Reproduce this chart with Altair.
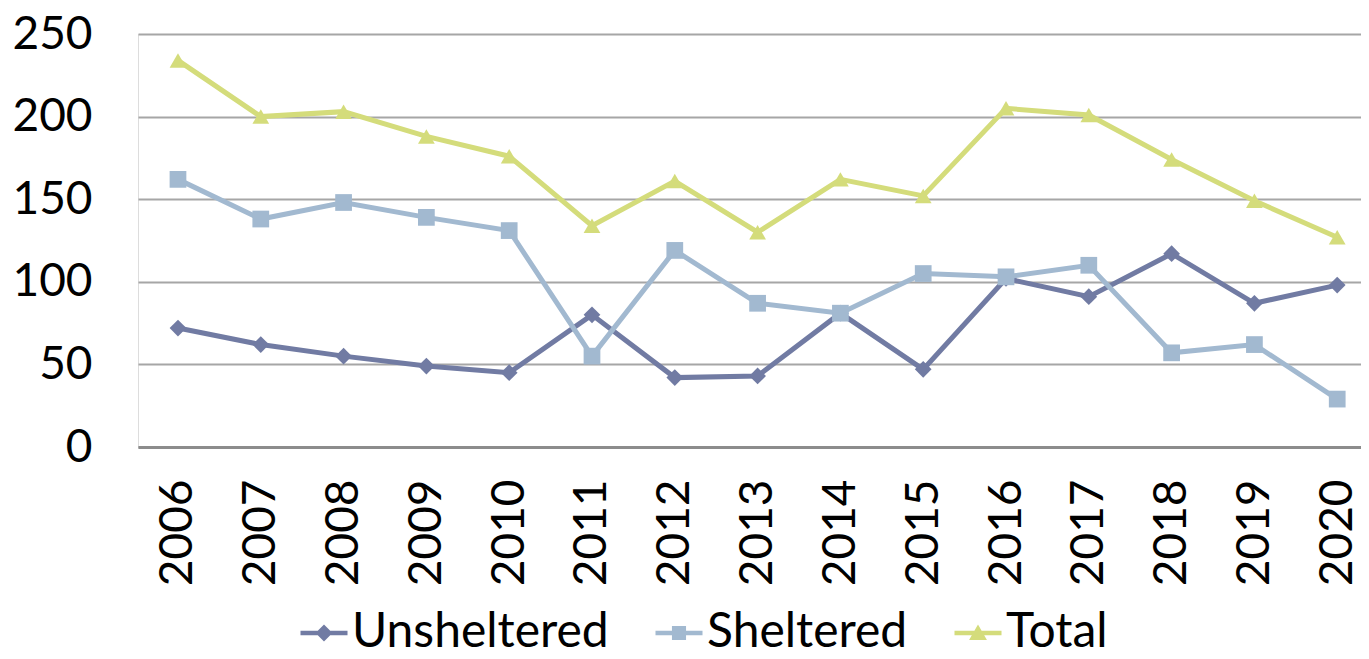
import altair as alt
import pandas as pd

years = ["2006", "2007", "2008", "2009", "2010", "2011", "2012", "2013",
         "2014", "2015", "2016", "2017", "2018", "2019", "2020"]
unsheltered = [72, 62, 55, 49, 45, 80, 42, 43, 81, 47, 102, 91, 117, 87, 98]
sheltered = [162, 138, 148, 139, 131, 55, 119, 87, 81, 105, 103, 110, 57, 62, 29]
total = [234, 200, 203, 188, 176, 134, 161, 130, 162, 152, 205, 201, 174, 149, 127]
series = ["Unsheltered", "Sheltered", "Total"]
colors = ["#717BA3", "#A2B9D0", "#D4DC7B"]
point_shapes = ["diamond", "square", "triangle-up"]
y_ticks = [0, 50, 100, 150, 200, 250]

LINE = "M-1,-0.1H1V0.1H-1Z"
legend_shapes = [
    LINE + "M0,-0.36L0.36,0L0,0.36L-0.36,0Z",
    LINE + "M-0.3,-0.3H0.3V0.3H-0.3Z",
    LINE + "M0,-0.36L0.38,0.3H-0.38Z",
]

rows = []
for name, vals in zip(series, [unsheltered, sheltered, total]):
    for yr, v in zip(years, vals):
        rows.append({"Year": yr, "Value": v, "Series": name})
df = pd.DataFrame(rows)

FONT = "Lato"

x_enc = alt.X(
    "Year:O",
    sort=years,
    scale=alt.Scale(type="point", padding=0.385, align=0.627),
    axis=alt.Axis(
        title=None, labelAngle=-90, ticks=False, grid=False,
        domain=True, domainColor="#8C8C8C", domainWidth=3,
        labelFont=FONT, labelFontSize=46, labelColor="black", labelPadding=32,
    ),
)
y_enc = alt.Y(
    "Value:Q",
    scale=alt.Scale(domain=[0, 250], nice=False),
    axis=alt.Axis(
        title=None, values=y_ticks, ticks=False, domain=False,
        grid=True, gridColor="#A6A6A6", gridWidth=2,
        labelFont=FONT, labelFontSize=46, labelColor="black", labelPadding=46,
    ),
)
color_scale = alt.Scale(domain=series, range=colors)
color_enc = alt.Color("Series:N", scale=color_scale, title=None)

base = alt.Chart(df)

lines = base.mark_line(strokeWidth=5).encode(
    x=x_enc, y=y_enc, color=color_enc, detail="Series:N",
)

point_layers = []
for name, shp in zip(series, point_shapes):
    point_layers.append(
        base.transform_filter(alt.datum.Series == name)
        .mark_point(shape=shp, filled=True, opacity=1, size=280)
        .encode(x=x_enc, y=y_enc, color=color_enc)
    )

legend_layer = base.mark_point(filled=True, opacity=0).encode(
    x=x_enc, y=y_enc, color=color_enc,
    shape=alt.Shape("Series:N", title=None,
                    scale=alt.Scale(domain=series, range=legend_shapes)),
)

chart = (
    alt.layer(lines, *point_layers, legend_layer)
    .properties(
        width=1223, height=413,
        autosize=alt.AutoSizeParams(type="none"),
        padding={"left": 130, "top": 26, "right": 0, "bottom": 210},
    )
    .configure_view(stroke=None)
    .configure(background="white")
    .configure_legend(
        orient="none", legendX=162, legendY=575, direction="horizontal",
        symbolSize=2209, symbolStrokeWidth=0, symbolOpacity=1,
        labelFont=FONT, labelFontSize=48, labelColor="black",
        labelOffset=4, columnPadding=46, labelLimit=400,
    )
)

chart.save("out.html", embed_options={"renderer": "svg", "actions": False})
